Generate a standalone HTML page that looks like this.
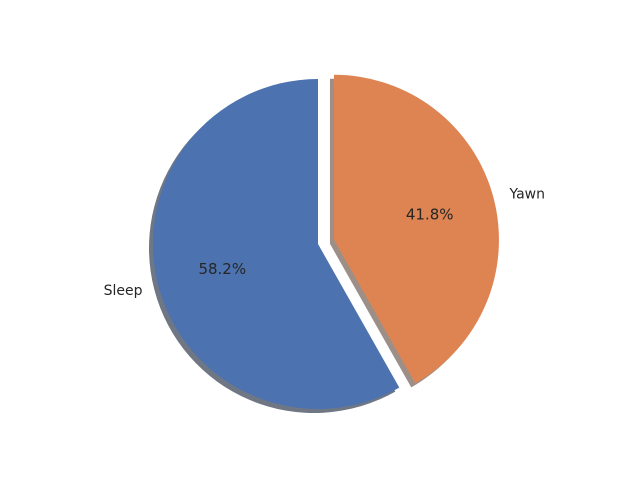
<!DOCTYPE html>
<html><head><meta charset="utf-8"><style>
body{margin:0;background:#fff;width:640px;height:480px;overflow:hidden}
text{font-family:"DejaVu Sans","Liberation Sans",sans-serif;font-size:14px;fill:#262626}
</style></head><body>
<svg id="chart" width="640" height="480" viewBox="0 0 640 480" xmlns="http://www.w3.org/2000/svg"></svg>
<script>
const labels = ["Sleep", "Yawn"];
const values = [58.2, 41.8];
const explode = [0, 0.1];
const colors = ["#4c72b0", "#dd8452"];
const shadowColors = ["#6f7684", "#9c8f88"];

const svg = document.getElementById('chart');
const NS = 'http://www.w3.org/2000/svg';
const cx = 318, cy = 244, R = 165;
const total = values.reduce((a, b) => a + b, 0);
function pt(x0, y0, r, deg) { const a = deg * Math.PI / 180; return [x0 + r * Math.cos(a), y0 - r * Math.sin(a)]; }
function wedgePath(x0, y0, a1, a2) {
  const p1 = pt(x0, y0, R, a1), p2 = pt(x0, y0, R, a2);
  const large = (a2 - a1) > 180 ? 1 : 0;
  return `M${x0},${y0} L${p1[0]},${p1[1]} A${R},${R} 0 ${large} 0 ${p2[0]},${p2[1]} Z`;
}
let start = 90;
const geo = values.map((v, i) => {
  const sweep = v / total * 360;
  const a1 = start, a2 = start + sweep; start = a2;
  const mid = (a1 + a2) / 2;
  const off = pt(0, 0, explode[i] * R, mid);
  return { a1, a2, mid, x0: cx + off[0], y0: cy + off[1] };
});
geo.forEach((g, i) => {
  const s = document.createElementNS(NS, 'path');
  s.setAttribute('d', wedgePath(g.x0 - 4, g.y0 + 4, g.a1, g.a2));
  s.setAttribute('fill', shadowColors[i]);
  
  
  svg.appendChild(s);
});
geo.forEach((g, i) => {
  const p = document.createElementNS(NS, 'path');
  p.setAttribute('d', wedgePath(g.x0, g.y0, g.a1, g.a2));
  p.setAttribute('fill', colors[i]);
  
  
  svg.appendChild(p);
  const lp = pt(g.x0, g.y0, R * 1.1, g.mid);
  const t = document.createElementNS(NS, 'text');
  t.setAttribute('x', lp[0]); t.setAttribute('y', lp[1] + 5);
  t.setAttribute('text-anchor', Math.cos(g.mid * Math.PI / 180) < 0 ? 'end' : 'start');
  t.textContent = labels[i];
  
  
  svg.appendChild(t);
  const pp = pt(g.x0, g.y0, R * 0.6, g.mid);
  const q = document.createElementNS(NS, 'text');
  q.setAttribute('x', pp[0]); q.setAttribute('y', pp[1] + 5);
  q.setAttribute('text-anchor', 'middle');
  q.setAttribute('style', 'font-size:15px');
  q.textContent = values[i].toFixed(1) + '%';
  
  
  svg.appendChild(q);
});
</script>
</body></html>
